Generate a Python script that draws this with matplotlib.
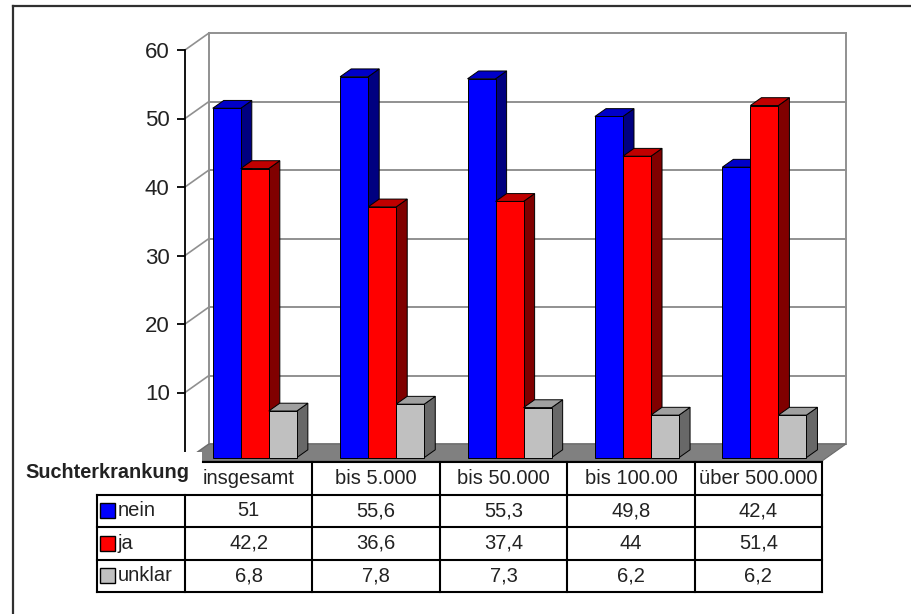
import matplotlib.pyplot as plt
from matplotlib.patches import Polygon, Rectangle
from matplotlib.lines import Line2D

plt.rcParams['font.family'] = ['Liberation Sans', 'DejaVu Sans']

# Data
categories = ['insgesamt', 'bis 5.000', 'bis 50.000', 'bis 100.00', 'über 500.000']
series = ['nein', 'ja', 'unklar']
nein = [51, 55.6, 55.3, 49.8, 42.4]
ja = [42.2, 36.6, 37.4, 44, 51.4]
unklar = [6.8, 7.8, 7.3, 6.2, 6.2]
yticks = [0, 10, 20, 30, 40, 50, 60]
row_title = 'Suchterkrankung'

values = [nein, ja, unklar]
# front, side, top colours for each series
shades = [('#0000ff', '#000080', '#0000c8'),
          ('#ff0000', '#800000', '#c00000'),
          ('#c0c0c0', '#686868', '#a0a0a0')]

W, H = 911, 614
fig = plt.figure(figsize=(W / 100, H / 100), dpi=100)
fig.patch.set_facecolor('white')

# chart axes = front plane of the 3d box
ax = fig.add_axes([185 / W, (H - 461) / H, 637 / W, 411 / H])
ax.set_xlim(0, 5)
ax.set_ylim(0, 60)
ax.patch.set_alpha(0)
for s in ['top', 'right', 'bottom']:
    ax.spines[s].set_visible(False)
ax.spines['left'].set_linewidth(1.3)
ax.set_xticks([])
ax.set_yticks(yticks)
ax.tick_params(axis='y', length=6, width=1.3, pad=5, labelsize=16, labelcolor='#222222')

# depth offset of the back wall, in data units
DX = 24 / (637 / 5)
DY = 17 / (411 / 60)

# back wall, left wall edges and floor
wall = '#909090'
for v in yticks:
    ax.plot([DX, 5 + DX], [v + DY, v + DY], color=wall, lw=1.4, clip_on=False, zorder=1)
    ax.plot([0, DX], [v, v + DY], color=wall, lw=1.2, clip_on=False, zorder=1)
ax.plot([DX, DX], [DY, 60 + DY], color=wall, lw=1.4, clip_on=False, zorder=1)
ax.plot([5 + DX, 5 + DX], [DY, 60 + DY], color=wall, lw=1.4, clip_on=False, zorder=1)
ax.add_patch(Polygon([(0, 0), (5, 0), (5 + DX, DY), (DX, DY)], closed=True,
                     facecolor='#808080', edgecolor='#6a6a6a', lw=0.8,
                     clip_on=False, zorder=1.5))

# 3d columns
d0, d1 = 0.2, 0.66
bw = 0.22
z = 3
for i in range(len(categories)):
    for j, vals in enumerate(values):
        v = vals[i]
        front, side, top = shades[j]
        x0 = i + 0.18 + j * bw + d0 * DX
        b = d0 * DY
        ddx, ddy = (d1 - d0) * DX, (d1 - d0) * DY
        ax.bar(x0, v, width=bw, bottom=b, align='edge', color=front,
               edgecolor='black', lw=0.7, zorder=z + 0.2, clip_on=False)
        x1 = x0 + bw
        ax.add_patch(Polygon([(x1, b), (x1, b + v), (x1 + ddx, b + v + ddy), (x1 + ddx, b + ddy)],
                             closed=True, facecolor=side, edgecolor='black', lw=0.7,
                             zorder=z, clip_on=False))
        ax.add_patch(Polygon([(x0, b + v), (x1, b + v), (x1 + ddx, b + v + ddy), (x0 + ddx, b + v + ddy)],
                             closed=True, facecolor=top, edgecolor='black', lw=0.7,
                             zorder=z + 0.1, clip_on=False))
        z += 1

# data table below the chart
tab = fig.add_axes([185 / W, (H - 592) / H, 637 / W, 130 / H])
tab.set_xlim(0, 5)
tab.set_ylim(4, 0)
tab.axis('off')
tab.patch.set_alpha(0)

label_left = -0.69
# white title cell hides the lower end of the value axis
tab.add_patch(Rectangle((-1.36, -0.31), 1.49, 1.31, facecolor='white', edgecolor='none',
                        clip_on=False, zorder=1))
kw = dict(color='black', lw=1.5, clip_on=False, zorder=3)
tab.plot([0.14, 5], [0, 0], **kw)
for c in range(1, 6):
    tab.plot([c, c], [0, 1], **kw)
for r in range(1, 5):
    tab.plot([label_left, 5], [r, r], **kw)
for c in [label_left, 0, 1, 2, 3, 4, 5]:
    tab.plot([c, c], [1, 4], **kw)

tab.text(-1.256, 0.32, row_title, fontsize=14.3, fontweight='bold', color='#222222',
         ha='left', va='center', zorder=4)
for i, cat in enumerate(categories):
    tab.text(i + 0.5, 0.5, cat, fontsize=14.5, color='#222222', ha='center', va='center')


def fmt(v):
    s = f'{v:g}'
    return s.replace('.', ',')


for r, (name, vals) in enumerate(zip(series, values)):
    yc = r + 1.5
    tab.add_patch(Rectangle((-0.665, yc - 0.23), 0.115, 0.46, facecolor=shades[r][0],
                            edgecolor='black', lw=1, clip_on=False, zorder=3))
    tab.text(-0.53, yc, name, fontsize=14.5, color='#222222', ha='left', va='center')
    for i, v in enumerate(vals):
        tab.text(i + 0.5, yc, fmt(v), fontsize=14.5, color='#222222', ha='center', va='center')

# outer frame (left and top edges)
fx, fy = 12.5 / W, (H - 6) / H
fig.add_artist(Line2D([fx, fx], [0, fy], color='#303030', lw=1.6))
fig.add_artist(Line2D([fx, 1], [fy, fy], color='#303030', lw=1.6))

fig.savefig('out.png', dpi=100, facecolor='white')
